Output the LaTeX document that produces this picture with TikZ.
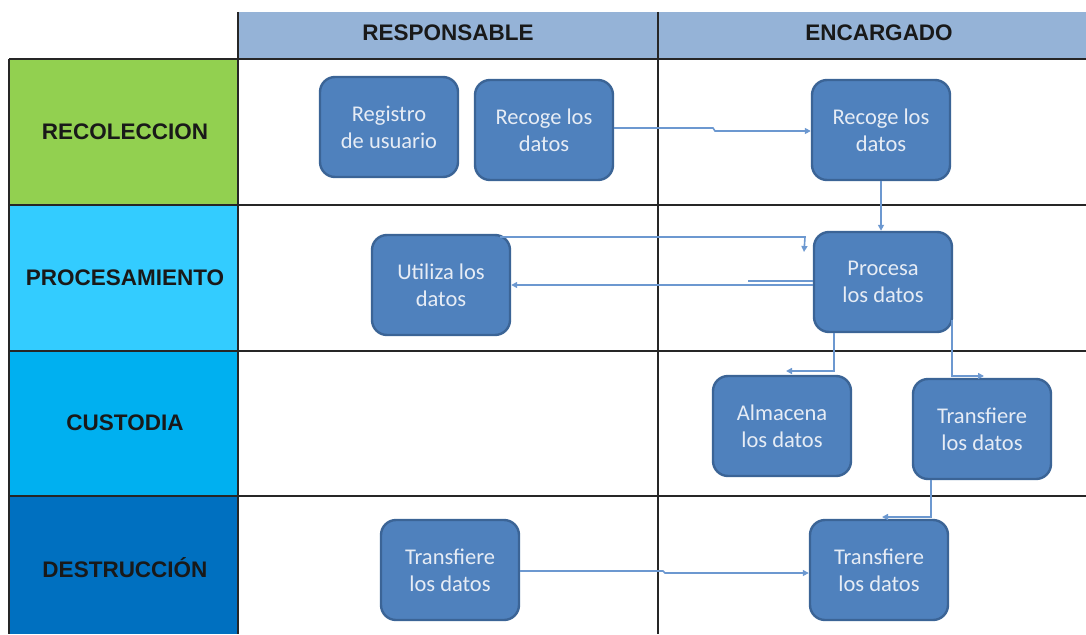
\documentclass[tikz,border=0pt]{standalone}
\usepackage{fontspec}
\setmainfont{Carlito}
\newfontfamily\lblfont{Liberation Sans}
\usetikzlibrary{arrows.meta,calc}
\definecolor{boxfill}{HTML}{4F81BD}
\definecolor{boxedge}{HTML}{3B6496}
\definecolor{conn}{HTML}{6C98D0}
\definecolor{hdr}{HTML}{95B3D7}
\definecolor{cgreen}{HTML}{92D050}
\definecolor{ccyan}{HTML}{33CCFF}
\definecolor{cblue}{HTML}{00B0F0}
\definecolor{cdark}{HTML}{0070C0}
\definecolor{boxtext}{HTML}{E6ECF5}
\tikzset{
  procbox/.style={draw=boxedge, line width=2.4pt, fill=boxfill, rounded corners=15pt,
    minimum width=138pt, minimum height=100pt, inner sep=0pt, align=center,
    text=boxtext, font=\fontsize{22.5}{27}\selectfont},
  lane/.style={inner sep=0pt, outer sep=0pt,
    font=\lblfont\bfseries\fontsize{22.5}{24}\selectfont, text=black!90},
  hdrtext/.style={font=\lblfont\bfseries\fontsize{22.5}{24}\selectfont, text=black!90},
  grid/.style={draw=black!85, line width=1.4pt},
  flow/.style={draw=conn, line width=1.6pt, -{Triangle[length=6pt,width=6pt]}},
  plain/.style={draw=conn, line width=1.6pt}
}
\begin{document}
\begin{tikzpicture}[x=1pt,y=-1pt]
\useasboundingbox (0,0) rectangle (1086,634);
% header
\fill[hdr] (238,12) rectangle (1086,59);
\node[hdrtext] (hresp) at (448,33) {RESPONSABLE};
\node[hdrtext] (henc) at (879,33) {ENCARGADO};
% lane labels
\path[fill=cgreen] (9,59) rectangle (238,205);
\path[fill=ccyan] (9,205) rectangle (238,351);
\path[fill=cblue] (9,351) rectangle (238,496);
\path[fill=cdark] (9,496) rectangle (238,634);
\node[lane] (l1) at (125,132) {RECOLECCION};
\node[lane] (l2) at (125,278) {PROCESAMIENTO};
\node[lane] (l3) at (125,423) {CUSTODIA};
\node[lane] (l4) at (125,568) {DESTRUCCIÓN};
% grid lines
\draw[grid] (9,59) -- (9,634);
\draw[grid] (238,12) -- (238,634);
\draw[grid] (658,12) -- (658,634);
\draw[grid] (9,59) -- (1086,59);
\draw[grid] (9,205) -- (1086,205);
\draw[grid] (9,351) -- (1086,351);
\draw[grid] (9,496) -- (1086,496);
% boxes
\node[procbox] (reg) at (389,127) {Registro\\de usuario};
\node[procbox] (rr) at (544,130) {Recoge los\\datos};
\node[procbox] (re) at (881,130) {Recoge los\\datos};
\node[procbox] (ut) at (441,285) {Utiliza los\\datos};
\node[procbox] (pr) at (883,282) {Procesa\\los datos};
\node[procbox] (al) at (782,426) {Almacena\\los datos};
\node[procbox] (tc) at (982,429) {Transfiere\\los datos};
\node[procbox] (tr) at (450,570) {Transfiere\\los datos};
\node[procbox] (te) at (879,570) {Transfiere\\los datos};
% connectors
\coordinate (j1a) at (713,128);
\coordinate (j1b) at (715,131);
\draw[flow] (rr.east |- j1a) -- (j1a) -- (j1b) -- (re.west |- j1b);
\draw[flow] (re.south) -- (re.south |- pr.north);
\coordinate (u1) at (500,237);
\coordinate (u2) at (805,237);
\coordinate (u3) at (804,252);
\draw[flow] (u1) -- (u2) -- (u3);
\draw[flow] (pr.west |- ut.east) -- (ut.east);
\coordinate (s1) at (748,281);
\draw[plain] (s1) -- (pr.west |- s1);
\coordinate (p1) at (834,371);
\coordinate (p2) at (786,371);
\draw[flow] (p1 |- pr.south) -- (p1) -- (p2);
\coordinate (q1) at (952,376);
\coordinate (q2) at (984,376);
\draw[flow] (952,320) -- (q1) -- (q2);
\coordinate (t1) at (931,517);
\coordinate (t2) at (882,517);
\draw[flow] (t1 |- tc.south) -- (t1) -- (t2);
\coordinate (d1) at (663,571);
\coordinate (d2) at (665,573);
\draw[flow] (tr.east |- d1) -- (d1) -- (d2) -- (te.west |- d2);
\end{tikzpicture}
\end{document}
